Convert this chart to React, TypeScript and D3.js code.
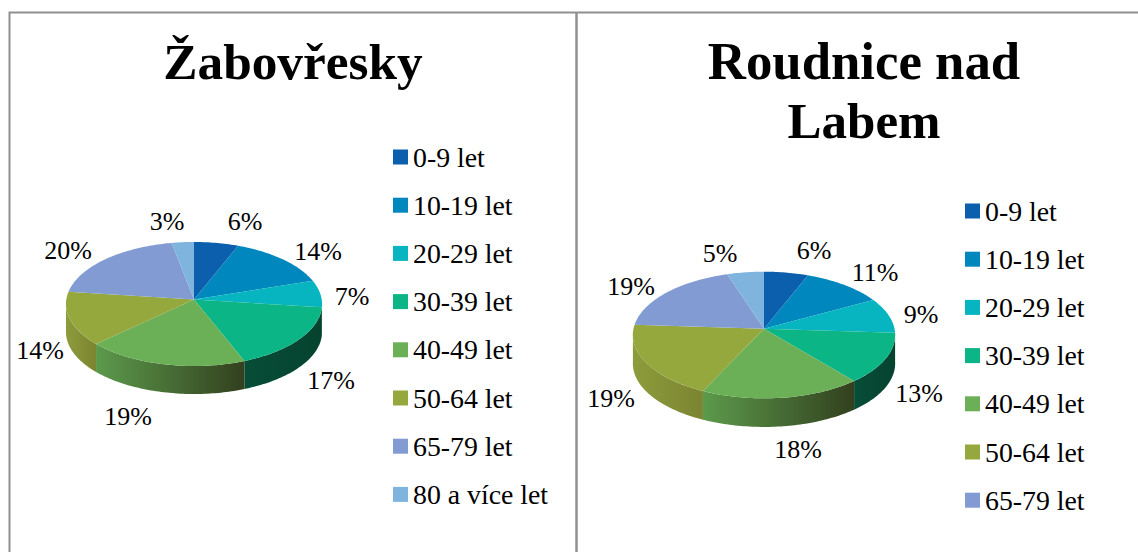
import React from "react";
import * as d3 from "d3";

const ageGroups = ["0-9 let", "10-19 let", "20-29 let", "30-39 let", "40-49 let", "50-64 let", "65-79 let", "80 a více let"];
const zabovreskyValues = [6, 14, 7, 17, 19, 14, 20, 3];
const roudniceValues = [6, 11, 9, 13, 18, 19, 19, 5];
const sliceColors = ["#0c5fad", "#0087bd", "#06b5c0", "#0cb586", "#6bb056", "#94a83e", "#829bd3", "#7fb4de"];
const wallLeft = ["#0c5fad", "#0087bd", "#06b5c0", "#064d38", "#5c9a4b", "#8d9c3c", "#829bd3", "#7fb4de"];
const wallRight = ["#0c5fad", "#0087bd", "#06b5c0", "#06432f", "#32401e", "#7b8430", "#829bd3", "#7fb4de"];

const SERIF = "'Liberation Serif', serif";
const FRAME = "#909090";

type PieCfg = {
  id: string; title: string[]; titleX: number; titleY: number[]; titleSize: number[]; values: number[]; legendCount: number;
  hx: number; hy: number; R: number; Rc: number; k: number; depth: number;
  legendX: number; legendY: number; labelOffsets: [number, number][];
};

const pies: PieCfg[] = [
  {
    id: "a", title: ["Žabovřesky"], titleX: 293, titleY: [79], titleSize: [51.3], values: zabovreskyValues, legendCount: 8,
    hx: 194, hy: 299.5, R: 127.7, Rc: 61.7, k: 0.0725, depth: 28, legendX: 393, legendY: 157,
    labelOffsets: [[51, -78], [124, -48], [158, -3], [137, 81], [-66, 117], [-154, 51], [-126, -49], [-27, -78]],
  },
  {
    id: "b", title: ["Roudnice nad", "Labem"], titleX: 864, titleY: [79, 138], titleSize: [52.8, 51], values: roudniceValues, legendCount: 7,
    hx: 764, hy: 328.7, R: 130.5, Rc: 62.7, k: 0.0997, depth: 28.6, legendX: 965, legendY: 211,
    labelOffsets: [[50, -78], [111, -56], [157, -14], [155, 65], [34, 121], [-153, 70], [-133, -42], [-44, -75]],
  },
];

function Pie3D({ cfg }: { cfg: PieCfg }) {
  const arcs = d3.pie<number>().sort(null).value((d) => d)(cfg.values);
  const project = (t: number, r = 1): [number, number] => {
    const x = r * Math.sin(t);
    const y = -r * Math.cos(t);
    const s = 1 - cfg.k * y;
    return [cfg.hx + (cfg.R * x) / s, cfg.hy + (cfg.Rc * y) / s];
  };
  const line = d3.line<[number, number]>();
  const wallA = (94 * Math.PI) / 180;
  const wallB = (266 * Math.PI) / 180;
  const sample = (a: number, b: number) => {
    const n = Math.max(2, Math.ceil((b - a) / 0.02));
    return d3.range(n + 1).map((i) => a + ((b - a) * i) / n);
  };
  const walls = arcs
    .map((a, i) => {
      const s = Math.max(a.startAngle, wallA);
      const e = Math.min(a.endAngle, wallB);
      if (e <= s) return null;
      const ts = sample(s, e);
      const top = ts.map((t) => project(t));
      const bottom = ts.slice().reverse().map((t) => {
        const p = project(t);
        return [p[0], p[1] + cfg.depth] as [number, number];
      });
      const xs = top.map((p) => p[0]);
      return { i, d: line([...top, ...bottom]) + "Z", x1: d3.min(xs)!, x2: d3.max(xs)! };
    })
    .filter(Boolean) as { i: number; d: string; x1: number; x2: number }[];

  return (
    <g>
      <defs>
        {walls.map((w) => (
          <linearGradient key={w.i} id={`${cfg.id}w${w.i}`} gradientUnits="userSpaceOnUse" x1={w.x1} x2={w.x2} y1={0} y2={0}>
            <stop offset="0" stopColor={wallLeft[w.i]} />
            <stop offset="1" stopColor={wallRight[w.i]} />
          </linearGradient>
        ))}
      </defs>
      {cfg.title.map((t, i) => (
        <text key={t} x={cfg.titleX} y={cfg.titleY[i]} textAnchor="middle" fontFamily={SERIF} fontWeight="700" fontSize={cfg.titleSize[i]} fill="#000">
          {t}
        </text>
      ))}
      {walls.map((w) => (
        <path key={w.i} d={w.d} fill={`url(#${cfg.id}w${w.i})`} />
      ))}
      {arcs.map((a, i) => {
        const pts = sample(a.startAngle, a.endAngle).map((t) => project(t));
        return <path key={i} d={line([[cfg.hx, cfg.hy], ...pts]) + "Z"} fill={sliceColors[i]} />;
      })}
      {arcs.map((a, i) => (
        <text key={i} x={cfg.hx + cfg.labelOffsets[i][0]} y={cfg.hy + cfg.labelOffsets[i][1]} textAnchor="middle" dominantBaseline="central"
          fontFamily={SERIF} fontSize={26} fill="#000">
          {cfg.values[i]}%
        </text>
      ))}
      {ageGroups.slice(0, cfg.legendCount).map((g, i) => (
        <g key={g} transform={`translate(${cfg.legendX},${cfg.legendY + i * 48.2})`}>
          <rect x={0} y={-7.5} width={15} height={15} fill={sliceColors[i]} />
          <text x={20} y={0} dominantBaseline="central" fontFamily={SERIF} fontSize={27.8} fill="#000">{g}</text>
        </g>
      ))}
    </g>
  );
}

export default function App() {
  return (
    <svg width={1138} height={552} viewBox="0 0 1138 552" style={{ position: "absolute", left: 0, top: 0, display: "block", background: "#fff" }}>
      <path d="M9.5 552V12.5H1138" fill="none" stroke={FRAME} strokeWidth={2} />
      <path d="M576.5 12.5V552" fill="none" stroke={FRAME} strokeWidth={2.5} />
      {pies.map((p) => (
        <Pie3D key={p.id} cfg={p} />
      ))}
    </svg>
  );
}
